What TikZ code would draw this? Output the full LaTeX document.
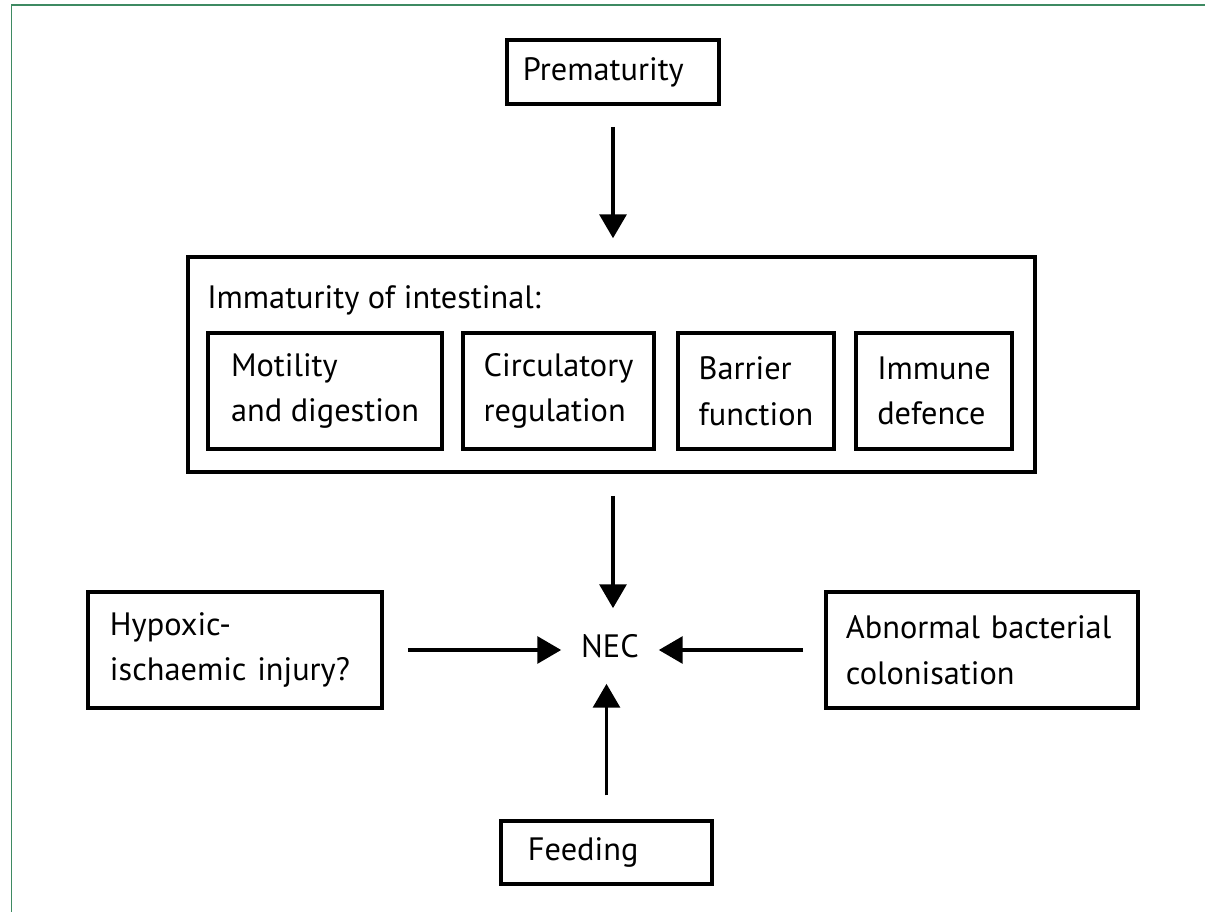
\documentclass[tikz,border=0pt]{standalone}
\usepackage{fontspec}
\setmainfont{PT Sans}
\usetikzlibrary{arrows.meta}
\definecolor{frame}{HTML}{3E8A62}
\tikzset{
	box/.style={draw, line width=2.6pt, align=left, inner ysep=0pt, font=\fontsize{23}{32.5}\selectfont},
	arr/.style={line width=2.8pt, -{Triangle[length=17pt,width=19pt]}}
}
\begin{document}
\begin{tikzpicture}[x=0.025cm, y=-0.025cm]
			\useasboundingbox (0,0) rectangle (1205,912);
			\draw[frame, line width=1.4pt] (11.5,912) -- (11.5,5) -- (1205,5);
			\draw 
			(613,72) node[box, text width=4.5cm, inner xsep=0.4cm, minimum height=1.6cm](pre){Prematurity}
			(611.5,364.5) node[box, minimum width=21.175cm, minimum height=5.375cm](imm){}
			(207,300) node[anchor=west, inner sep=0pt, font=\fontsize{23}{32.5}\selectfont](immtitle){Immaturity of intestinal:}
			(325,391) node[box, minimum width=5.85cm, minimum height=2.9cm](mot){Motility\\and digestion}
			(558.5,391) node[box, minimum width=4.775cm, minimum height=2.9cm](cir){Circulatory\\regulation}
			(756,391) node[box, minimum width=3.9cm, minimum height=2.9cm](bar){Barrier\\function}
			(934,391) node[box, minimum width=3.9cm, minimum height=2.9cm](imu){Immune\\defence};
			\draw 
			(610,646) node[minimum width=2.425cm, minimum height=1.875cm, inner sep=0pt, font=\fontsize{23}{32.5}\selectfont](nec){NEC}
			(235,650) node[box, text width=6.25cm, inner xsep=0.55cm, minimum height=2.9cm](hyp){Hypoxic-\\ischaemic injury?}
			(982,650) node[box, text width=6.8cm, inner xsep=0.5cm, minimum height=2.9cm](abn){Abnormal bacterial\\colonisation}
			(606.5,852.5) node[box, text width=3.925cm, inner xsep=0.675cm, minimum height=1.575cm](fee){Feeding};
			
			\draw[arr, shorten <=15pt, shorten >=12pt] (pre.south) -- (pre.south |- imm.north);
			\draw[arr, shorten <=15.6pt] (pre.south |- imm.south) -- (pre.south |- nec.north);
			\draw[arr, shorten <=17pt] (hyp.east) -- (nec.west |- hyp.east);
			\draw[arr, shorten <=15pt] (abn.west) -- (nec.east |- abn.west);
			\draw[arr, shorten <=17pt] (fee.north) -- (fee.north |- nec.south);
			
		\end{tikzpicture}
\end{document}
